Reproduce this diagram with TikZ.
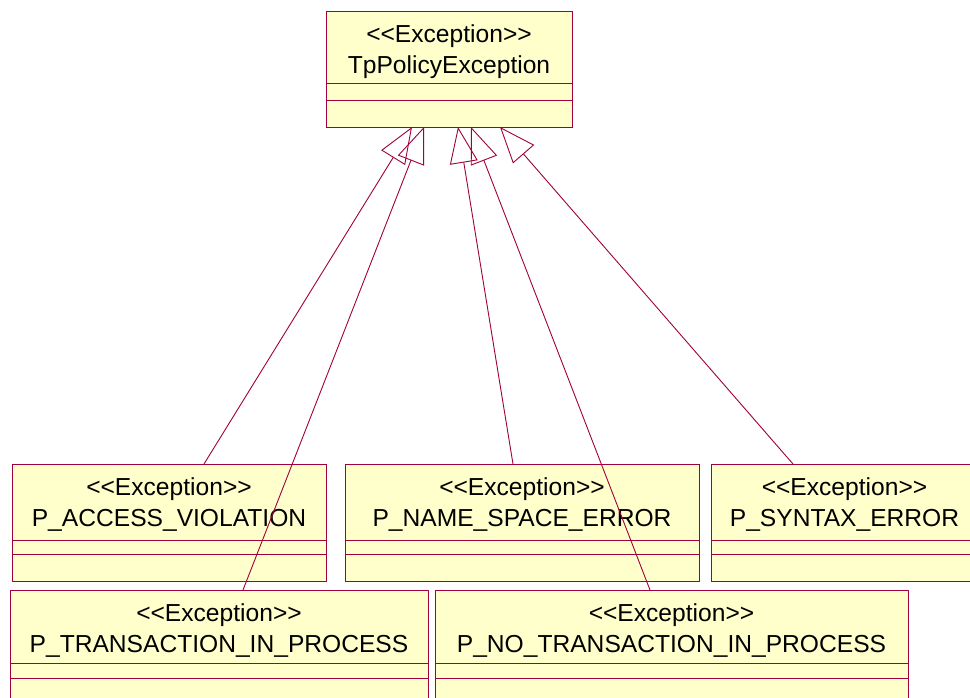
\documentclass[tikz,border=0pt]{standalone}
\usepackage{fontspec}
\newfontfamily\umlfont{Liberation Sans}
\usetikzlibrary{arrows.meta,calc}
\definecolor{umlred}{RGB}{160,0,60}
\definecolor{umlfill}{RGB}{255,255,204}
\newcommand\mkclass[8]{%
  \node[cls, minimum width=#4pt, minimum height=#5pt, anchor=north west] (#1) at (#2,#3) {};
  \draw[cmp] ([yshift=-#6pt]#1.north west) -- ([yshift=-#6pt]#1.north east);
  \draw[cmp] ([yshift=-#7pt]#1.north west) -- ([yshift=-#7pt]#1.north east);
  \node[lbl] (#1-st) at ([yshift=-31pt]#1.north) {<\kern0pt<Exception>\kern0pt>};
  \node[lbl] (#1-nm) at ([yshift=-62pt]#1.north) {#8};
}
\begin{document}
\begin{tikzpicture}[x=1pt,y=-1pt,
  cls/.style={draw=umlred, fill=umlfill, line width=1pt, inner sep=0pt, outer sep=0pt},
  cmp/.style={draw=umlred, line width=0.8pt},
  lbl/.style={font=\umlfont\fontsize{24.6}{28}\selectfont, anchor=base, inner sep=0pt},
  gen/.style={draw=umlred, line width=0.9pt, line join=miter, -{Triangle[open, length=36pt, width=28pt]}}]
\useasboundingbox (0,0) rectangle (970,697);
\clip (0,0) rectangle (970,697);
\fill[white] (0,0) rectangle (970,697);
\mkclass{T}{326}{11}{246}{116}{72}{89}{TpPolicyException}
\mkclass{A}{12}{464}{314}{117}{76}{90}{P\_ACCESS\_VIOLATION}
\mkclass{N}{345}{464}{354}{117}{76}{90}{P\_NAME\_SPACE\_ERROR}
\mkclass{S}{711}{464}{267}{117}{76}{90}{P\_SYNTAX\_ERROR}
\mkclass{P}{10}{590}{418}{120}{73}{88}{P\_TRANSACTION\_IN\_PROCESS}
\mkclass{Q}{435}{590}{473}{120}{73}{88}{P\_NO\_TRANSACTION\_IN\_PROCESS}
\draw[gen] ($(A.north west)+(192,0)$) -- ($(T.south west)+(86,0)$);
\draw[gen] ($(P.north west)+(233,0)$) -- ($(T.south west)+(98,0)$);
\draw[gen] ($(N.north west)+(168,0)$) -- ($(T.south west)+(132,0)$);
\draw[gen] ($(Q.north west)+(215,0)$) -- ($(T.south west)+(145,0)$);
\draw[gen] ($(S.north west)+(82,0)$) -- ($(T.south west)+(174,0)$);
\end{tikzpicture}
\end{document}
